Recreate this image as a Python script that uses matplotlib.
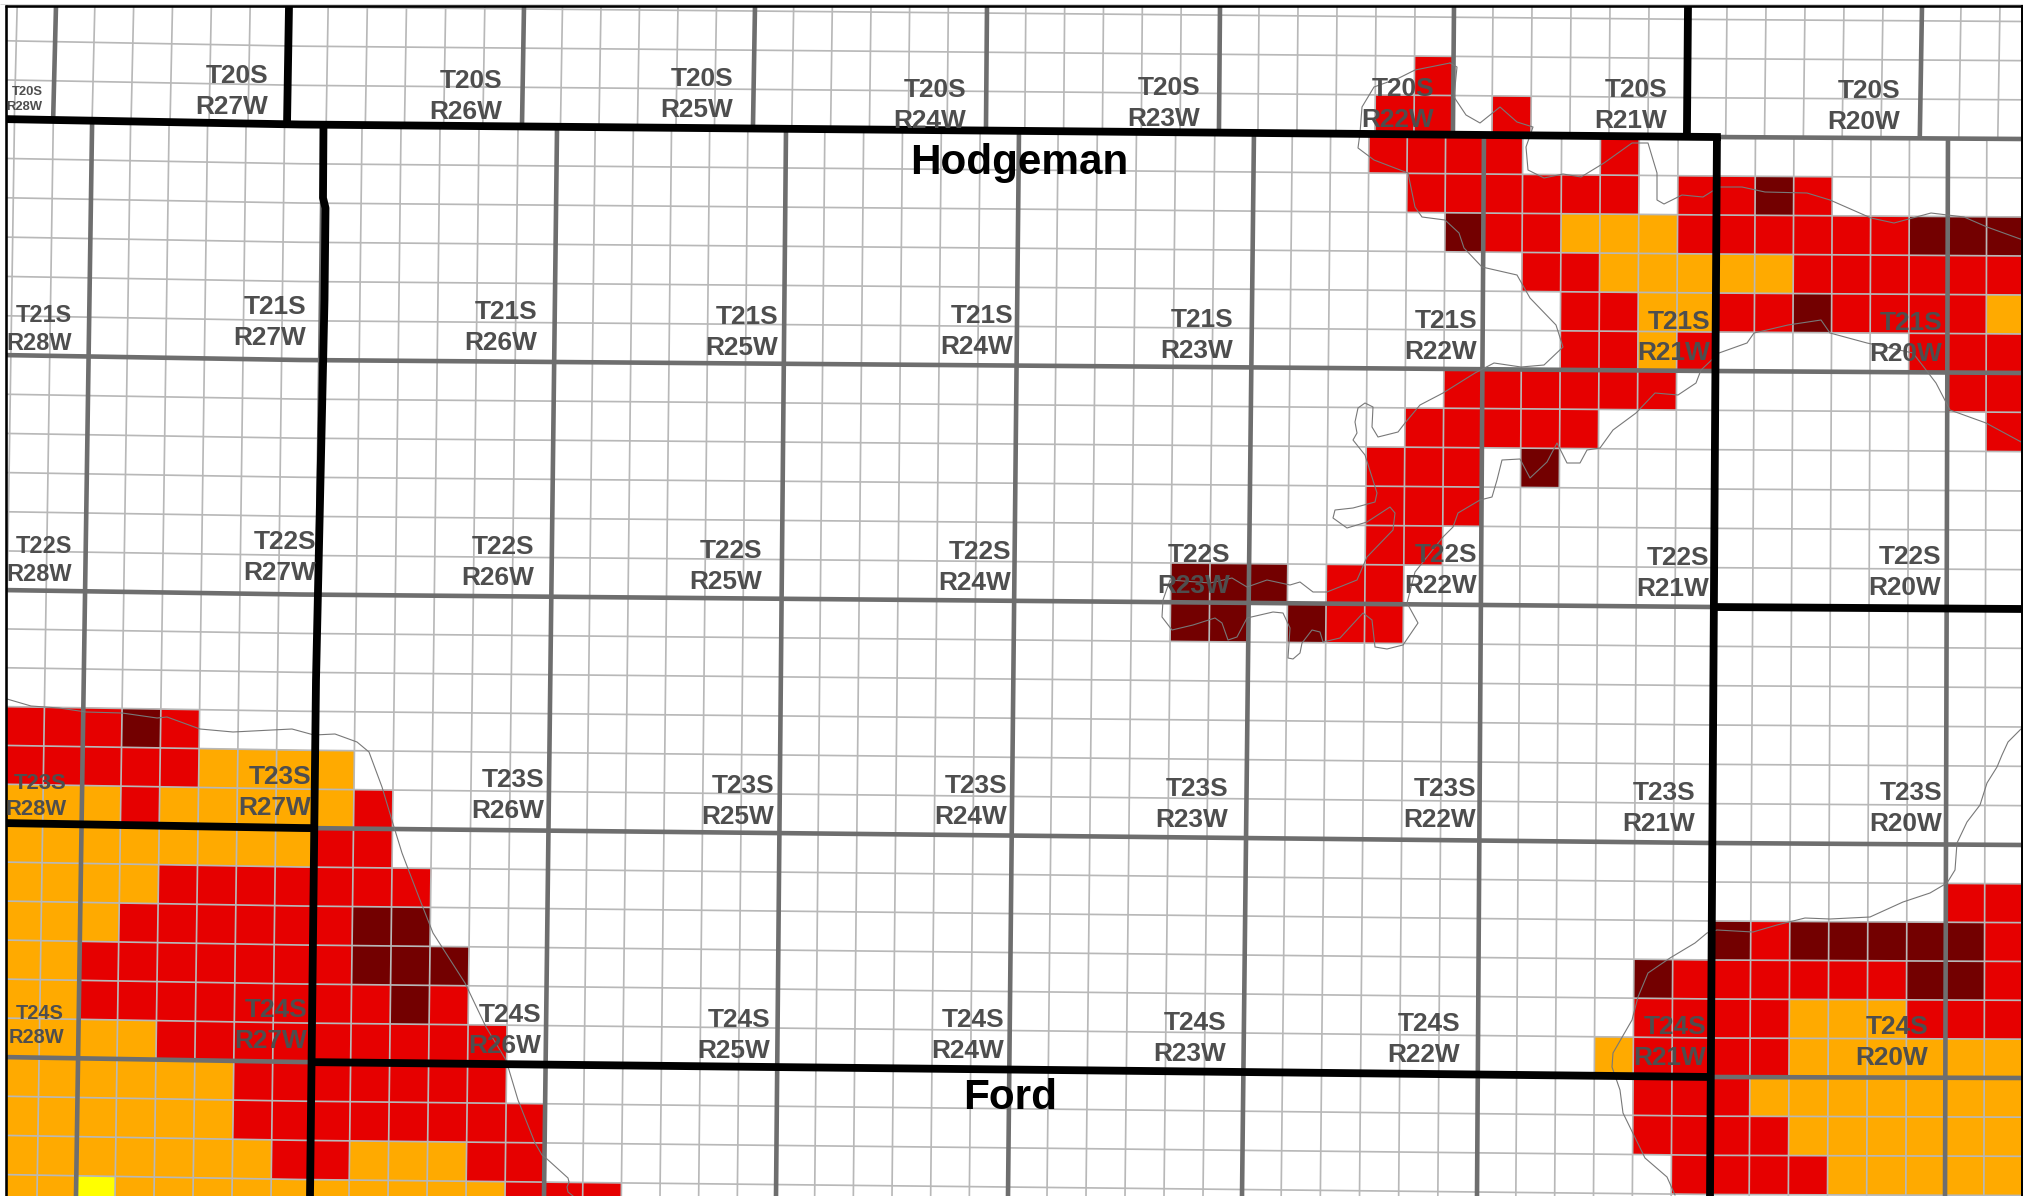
import numpy as np
import matplotlib
matplotlib.use('Agg')
import matplotlib.pyplot as plt
from matplotlib.patches import Polygon, Rectangle

plt.rcParams['font.family'] = ['Liberation Sans', 'DejaVu Sans']

W, H = 2023, 1196

# Township grid (pixels). Sections are 1/6 of a township.
# Township rows bend a little, so each one has its y at four x positions.
ROW_X_KNOTS = [0, 300, 1712, 2023]
ROW_TOWNS = [-6, 0, 6, 12, 18, 24, 30]
ROW_Y_AT_0 = [-116, 119, 355, 590, 823, 1057, 1292]
ROW_Y_AT_300 = [-110.5, 124.5, 360, 594.5, 828, 1062, 1297]
ROW_Y_AT_1712 = [-98, 137, 371, 607, 843, 1077, 1312]
ROW_Y_AT_2023 = [-96, 139, 373, 609, 845, 1078, 1313]

LOWER_X_TOP = [-141, 92, 323, 557, 786, 1019, 1254, 1484, 1717, 1948, 2181]
LOWER_X_BOT = [-158, 76, 310, 544, 776, 1008, 1242, 1477, 1710, 1945, 2178]
UPPER_X_TOP = [-177, 56, 289, 524, 755, 987, 1220, 1454, 1688, 1922, 2156]
UPPER_X_BOT = [-180, 53, 287, 522, 753, 986, 1219, 1453, 1687, 1920, 2154]

# Filled sections: (row, first column, last column)
UPPER_RED = [(-2, 35, 35), (-1, 34, 35), (-1, 37, 37)]
RED = [(0, 33, 36), (0, 39, 39), (1, 34, 39), (1, 41, 42), (1, 44, 44),
       (2, 36, 37), (2, 41, 46), (3, 37, 38), (3, 44, 49), (4, 38, 39),
       (4, 42, 43), (4, 45, 48), (5, 38, 39), (5, 41, 41), (5, 47, 49),
       (6, 35, 40), (6, 48, 49), (7, 34, 38), (7, 49, 49), (8, 33, 35),
       (9, 33, 35), (10, 33, 34), (11, 32, 33), (12, 32, 33),
       (15, -2, 0), (15, 2, 2), (16, -2, 2), (17, 1, 1), (17, 7, 7),
       (18, 6, 7), (19, 2, 8), (20, 1, 6), (21, 0, 6), (22, 0, 7), (22, 9, 9),
       (23, 2, 10), (24, 4, 10), (25, 4, 11), (26, 5, 6), (26, 10, 11),
       (27, 11, 13),
       (19, 48, 49), (20, 43, 43), (20, 49, 49), (21, 41, 46), (21, 49, 49),
       (22, 40, 43), (22, 47, 49), (23, 40, 43), (24, 40, 42), (25, 40, 43),
       (26, 41, 44)]
DARK = [(1, 43, 43), (2, 35, 35), (2, 47, 49), (4, 44, 44), (8, 37, 37),
        (11, 28, 30), (12, 28, 29), (12, 31, 31), (15, 1, 1), (20, 7, 8),
        (20, 42, 42), (20, 44, 48), (21, 7, 9), (21, 40, 40), (21, 47, 48),
        (22, 8, 8)]
ORANGE = [(2, 38, 40), (3, 39, 43), (4, 40, 41), (4, 49, 49), (5, 40, 40),
          (16, 3, 6), (17, -2, 0), (17, 2, 6), (18, -2, 5), (19, -2, 1),
          (20, -2, 0), (21, -2, -1), (22, -2, -1), (22, 44, 46), (23, -2, 1),
          (23, 39, 39), (23, 44, 49), (24, -2, 3), (24, 43, 49), (25, -2, 3),
          (25, 44, 49), (26, -2, 4), (26, 7, 9), (26, 45, 49), (27, -2, -1),
          (27, 1, 10)]
YELLOW = [(27, 0, 0)]

# Township labels: text lines, right edge, baseline of the R line, font size in px
LABELS = [
    ('T20S', 'R28W', 42.5, 110, 13), ('T20S', 'R27W', 268, 114, 26.3),
    ('T20S', 'R26W', 502, 119, 26.3), ('T20S', 'R25W', 733, 117, 26.3),
    ('T20S', 'R24W', 966, 128, 26.3), ('T20S', 'R23W', 1200, 126, 26.3),
    ('T20S', 'R22W', 1434, 127, 26.3), ('T20S', 'R21W', 1667, 128, 26.3),
    ('T20S', 'R20W', 1900, 129, 26.3),
    ('T21S', 'R28W', 72, 350, 23.5), ('T21S', 'R27W', 306, 345, 26.3),
    ('T21S', 'R26W', 537, 350, 26.3), ('T21S', 'R25W', 778, 355, 26.3),
    ('T21S', 'R24W', 1013, 354, 26.3), ('T21S', 'R23W', 1233, 358, 26.3),
    ('T21S', 'R22W', 1477, 359, 26.3), ('T21S', 'R21W', 1710, 360, 26.3),
    ('T21S', 'R20W', 1942, 361, 26.3),
    ('T22S', 'R28W', 72, 581, 23.5), ('T22S', 'R27W', 316, 580, 26.3),
    ('T22S', 'R26W', 534, 585, 26.3), ('T22S', 'R25W', 762, 589, 26.3),
    ('T22S', 'R24W', 1011, 590, 26.3), ('T22S', 'R23W', 1230, 593, 26.3),
    ('T22S', 'R22W', 1477, 593, 26.3), ('T22S', 'R21W', 1709, 596, 26.3),
    ('T22S', 'R20W', 1941, 595, 26.3),
    ('T23S', 'R28W', 66.5, 815, 22), ('T23S', 'R27W', 311, 815, 26.3),
    ('T23S', 'R26W', 544, 818, 26.3), ('T23S', 'R25W', 774, 824, 26.3),
    ('T23S', 'R24W', 1007, 824, 26.3), ('T23S', 'R23W', 1228, 827, 26.3),
    ('T23S', 'R22W', 1476, 827, 26.3), ('T23S', 'R21W', 1695, 831, 26.3),
    ('T23S', 'R20W', 1942, 831, 26.3),
    ('T24S', 'R28W', 64, 1043, 20), ('T24S', 'R27W', 307, 1048, 26.3),
    ('T24S', 'R26W', 541, 1053, 26.3), ('T24S', 'R25W', 770, 1058, 26.3),
    ('T24S', 'R24W', 1004, 1058, 26.3), ('T24S', 'R23W', 1226, 1061, 26.3),
    ('T24S', 'R22W', 1460, 1062, 26.3), ('T24S', 'R21W', 1706, 1065, 26.3),
    ('T24S', 'R20W', 1928, 1065, 26.3),
]
COUNTIES = [('Hodgeman', 1019, 163), ('Ford', 1010, 1098)]

# Thin outline of the sand hills, traced in pixels
OUTLINE_WEST = [(7, 699), (31, 706), (59, 708), (86, 712), (122, 713), (157, 718),
                (167, 717), (200, 729), (233, 732), (292, 729), (314, 735),
                (335, 734), (357, 742), (369, 752), (382, 787), (394, 827),
                (402, 853), (420, 900), (433, 933), (465, 983), (486, 1027),
                (506, 1060), (518, 1100), (535, 1143), (542, 1155), (547, 1159),
                (568, 1178), (569, 1182), (567, 1187), (568, 1192), (573, 1196)]
OUTLINE_SOUTHEAST = [(2022, 728), (2008, 742), (2002, 755), (1997, 767), (1987, 783),
                     (1980, 805), (1967, 822), (1957, 843), (1955, 870), (1947, 883),
                     (1930, 893), (1903, 902), (1870, 917), (1830, 919), (1805, 918),
                     (1777, 925), (1753, 932), (1717, 930), (1707, 933), (1695, 943),
                     (1670, 958), (1648, 973), (1638, 997), (1632, 1020), (1613, 1053),
                     (1612, 1067), (1620, 1090), (1623, 1113), (1645, 1158),
                     (1667, 1177), (1675, 1195)]
OUTLINE_NORTH_A = [(1450, 63), (1415, 70), (1399, 78), (1374, 87), (1362, 107),
                   (1360, 133), (1358, 148), (1374, 160), (1408, 173), (1415, 207),
                   (1422, 217), (1445, 220), (1459, 233), (1464, 248), (1482, 267),
                   (1517, 275), (1530, 298), (1556, 325), (1563, 347), (1544, 365),
                   (1521, 367), (1494, 363), (1475, 373), (1443, 393), (1420, 405),
                   (1405, 423), (1398, 432), (1378, 437), (1372, 427), (1373, 407),
                   (1365, 403), (1358, 408), (1355, 422), (1357, 433), (1353, 440),
                   (1365, 455), (1377, 493), (1375, 502), (1353, 508), (1335, 510),
                   (1333, 518), (1347, 528), (1367, 522), (1390, 507), (1395, 513),
                   (1393, 530), (1367, 557), (1357, 580), (1327, 592), (1313, 592),
                   (1300, 582), (1290, 585), (1267, 580), (1247, 587), (1232, 578),
                   (1210, 583), (1170, 580), (1163, 600), (1162, 617), (1172, 630),
                   (1193, 625), (1215, 618), (1222, 623), (1228, 640), (1237, 637),
                   (1247, 618), (1273, 612), (1283, 613), (1290, 628), (1288, 658),
                   (1293, 659), (1300, 653), (1302, 643), (1312, 630), (1320, 632),
                   (1323, 642), (1340, 638), (1363, 613), (1372, 620), (1375, 647),
                   (1387, 649), (1403, 645), (1418, 623), (1407, 603), (1415, 572),
                   (1443, 537), (1453, 527), (1458, 513), (1480, 500), (1492, 497),
                   (1497, 480), (1502, 460), (1520, 459), (1530, 478), (1547, 462),
                   (1557, 443), (1567, 463), (1580, 463), (1587, 450), (1600, 448),
                   (1613, 430), (1636, 413), (1655, 393), (1678, 395), (1696, 383),
                   (1701, 370), (1719, 353), (1747, 343), (1754, 333), (1788, 325),
                   (1821, 320), (1830, 333), (1867, 343), (1913, 353), (1936, 383),
                   (1950, 410), (1986, 423), (2023, 443)]
OUTLINE_NORTH_B = [(1450, 63), (1457, 67), (1454, 97), (1466, 115), (1480, 123),
                   (1500, 107), (1517, 122), (1533, 127), (1526, 147), (1528, 170),
                   (1544, 178), (1563, 174), (1581, 177), (1604, 163), (1632, 143),
                   (1648, 143), (1657, 173), (1657, 200), (1664, 204), (1682, 195),
                   (1703, 197), (1719, 187), (1742, 187), (1765, 192), (1807, 193),
                   (1830, 200), (1871, 218), (1894, 223), (1931, 213), (1964, 217),
                   (1987, 227), (2023, 240)]
# west county line has a small jog near the top
COUNTY_LINE_WEST = [(323.5, 122), (323, 198), (325.5, 208), (324.5, 300), (316, 680), (310, 1196)]


def row_y(x, town_row):
    knots = [np.interp(town_row, ROW_TOWNS, ys)
             for ys in (ROW_Y_AT_0, ROW_Y_AT_300, ROW_Y_AT_1712, ROW_Y_AT_2023)]
    return np.interp(x, ROW_X_KNOTS, knots)


def col_x(y, col, x_top, x_bot, y_top, y_bot):
    pos = col / 6 + 1
    top = np.interp(pos, np.arange(len(x_top)), x_top)
    bot = np.interp(pos, np.arange(len(x_bot)), x_bot)
    return top + (bot - top) * (y - y_top) / (y_bot - y_top)


def lower_pt(col, row):
    x = col_x(row_y(0, row), col, LOWER_X_TOP, LOWER_X_BOT, 130, 1196)
    y = row_y(x, row)
    return col_x(y, col, LOWER_X_TOP, LOWER_X_BOT, 130, 1196), y


def upper_pt(col, row):
    x = col_x(row_y(0, row), col, UPPER_X_TOP, UPPER_X_BOT, 6, 125)
    y = row_y(x, row)
    return col_x(y, col, UPPER_X_TOP, UPPER_X_BOT, 6, 125), y


def draw_cells(ax, spans, color, pt):
    for row, first, last in spans:
        for col in range(first, last + 1):
            corners = [pt(col, row), pt(col + 1, row), pt(col + 1, row + 1), pt(col, row + 1)]
            ax.add_patch(Polygon(corners, facecolor=color, edgecolor=color, lw=0.3, zorder=1))


def draw_line(ax, a, b, color, px, zorder):
    ax.plot([a[0], b[0]], [a[1], b[1]], color=color, lw=px * 0.72,
            solid_capstyle='butt', zorder=zorder)


fig = plt.figure(figsize=(W / 100, H / 100), dpi=100)
ax = fig.add_axes([0, 0, 1, 1])
ax.set_xlim(0, W)
ax.set_ylim(H, 0)
ax.axis('off')

draw_cells(ax, UPPER_RED, '#e60000', upper_pt)
draw_cells(ax, RED, '#e60000', lower_pt)
draw_cells(ax, DARK, '#730000', lower_pt)
draw_cells(ax, ORANGE, '#ffaa00', lower_pt)
draw_cells(ax, YELLOW, '#ffff00', lower_pt)

# section lines
SECTION = '#b8b8b8'
TOWNSHIP = '#6e6e6e'
SECTION_W = 1.7
TOWNSHIP_W = 4.6
for col in range(-2, 53):
    township = col % 6 == 0
    draw_line(ax, upper_pt(col, -4), upper_pt(col, 0), TOWNSHIP if township else SECTION,
              TOWNSHIP_W if township else SECTION_W, 3 if township else 2)
for col in range(-2, 51):
    township = col % 6 == 0
    draw_line(ax, lower_pt(col, 0), lower_pt(col, 29), TOWNSHIP if township else SECTION,
              TOWNSHIP_W if township else SECTION_W, 3 if township else 2)
for row in range(-3, 29):
    township = row % 6 == 0
    xs = np.array(ROW_X_KNOTS)
    ys = [row_y(x, row) for x in xs]
    ax.plot(xs, ys, color=TOWNSHIP if township else SECTION,
            lw=(TOWNSHIP_W if township else SECTION_W) * 0.72,
            solid_capstyle='butt', zorder=3 if township else 2)

for outline in [OUTLINE_WEST, OUTLINE_SOUTHEAST, OUTLINE_NORTH_A, OUTLINE_NORTH_B]:
    xs, ys = zip(*outline)
    ax.plot(xs, ys, color='#787878', lw=0.8, zorder=4)

# county lines
BLACK_W = 7.8
black_x = np.array([0, 300, lower_pt(42, 0)[0]])
ax.plot(black_x, [row_y(x, 0) for x in black_x], color='black', lw=BLACK_W * 0.72,
        solid_capstyle='projecting', zorder=5)
draw_line(ax, upper_pt(6, -4), upper_pt(6, 0), 'black', BLACK_W, 5)
draw_line(ax, upper_pt(42, -4), upper_pt(42, 0), 'black', BLACK_W, 5)
xs, ys = zip(*COUNTY_LINE_WEST)
ax.plot(xs, ys, color='black', lw=BLACK_W * 0.72, solid_capstyle='butt', zorder=5)
draw_line(ax, lower_pt(42, 0), lower_pt(42, 29), 'black', BLACK_W, 5)
west_x = np.array([0, 300, lower_pt(6, 18)[0]])
ax.plot(west_x, [row_y(x, 18) for x in west_x], color='black', lw=BLACK_W * 0.72,
        solid_capstyle='butt', zorder=5)
south_x = np.array([lower_pt(6, 24)[0], 1712])
ax.plot(south_x, [row_y(x, 24) for x in south_x], color='black', lw=BLACK_W * 0.72,
        solid_capstyle='butt', zorder=5)
east_x = np.array([lower_pt(42, 12)[0], W])
ax.plot(east_x, [row_y(x, 12) for x in east_x], color='black', lw=BLACK_W * 0.72,
        solid_capstyle='butt', zorder=5)

# map frame
ax.add_patch(Rectangle((0, 0), 6, H, facecolor='white', edgecolor='none', zorder=6))
ax.add_patch(Rectangle((0, 0), W, 6, facecolor='white', edgecolor='none', zorder=6))
draw_line(ax, (0, 4), (W, 4), '#d8d8d8', 1, 6.5)
draw_line(ax, (6, 5), (6, H), 'black', 2.6, 7)
draw_line(ax, (5, 6), (W, 6), 'black', 2.6, 7)
draw_line(ax, (2022.5, 5), (2022.5, H), 'black', 2, 7)

for town, rng, right, base, size in LABELS:
    ax.text(right, base, rng, ha='right', va='baseline', fontsize=size * 0.72,
            fontweight='bold', color='#4e4e4e', zorder=8)
    ax.text(right, base - size * 1.18, town, ha='right', va='baseline', fontsize=size * 0.72,
            fontweight='bold', color='#4e4e4e', zorder=8)
for name, x, y in COUNTIES:
    ax.text(x, y, name, ha='center', va='center', fontsize=30.4, fontweight='bold',
            color='black', zorder=8)

fig.savefig('out.png', dpi=100)
